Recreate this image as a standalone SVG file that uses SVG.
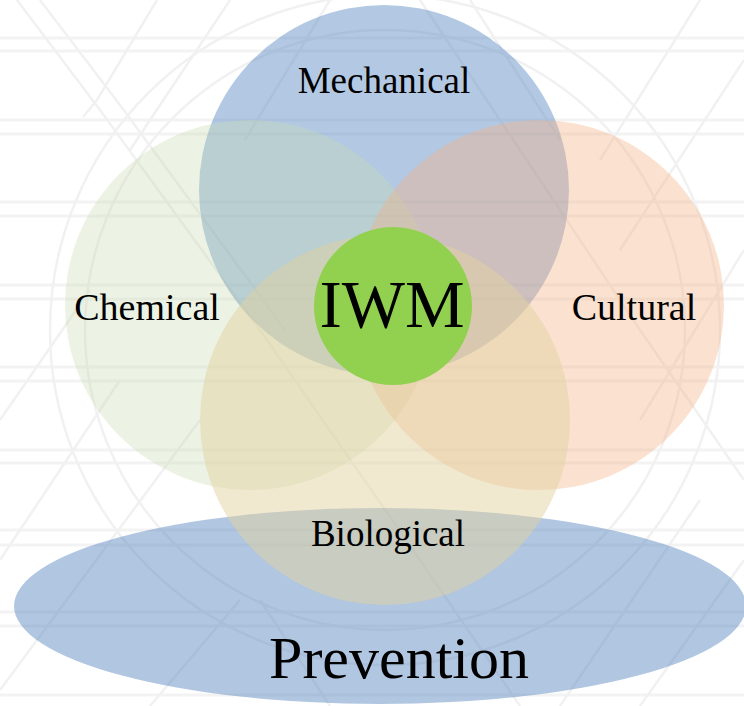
<svg xmlns="http://www.w3.org/2000/svg" width="744" height="706" viewBox="0 0 744 706">
  <style>
    .bg { fill: none; stroke: #f1f1f1; stroke-width: 2.5; }
    .bgh { fill: none; stroke: #f3f3f3; stroke-width: 3; }
    .lbl { font-family: "Liberation Serif", "Times New Roman", serif; fill: #000; text-anchor: middle; }
  </style>
  <rect width="744" height="706" fill="#ffffff"/>
  <g id="background">
    <path class="bgh" d="M0 38H744M0 51H744M0 120H744M0 134H744M0 202H744M0 216H744M0 285H744M0 299H744M0 367H744M0 381H744M0 450H744M0 463H744M0 530H744M0 545H744M0 612H744M0 626H744M0 695H744"/>
    <path class="bg" d="M17 0L100 110L260 330L420 560L520 706M40 0L120 105L285 330M157 0L97 100L83 117M230 0L130 150M330 0L245 140M420 0L500 120L640 330L744 480M470 0L560 140M700 0L600 160M744 60L620 250M744 250L640 420M0 420L90 290M0 560L120 380M0 690L200 420M560 706L700 500M640 706L744 560M150 706L240 600M330 706L260 600"/>
    <circle class="bg" cx="385" cy="330" r="335"/>
    <circle class="bg" cx="385" cy="330" r="300"/>
  </g>
  <g id="prevention">
    <ellipse cx="380" cy="606" rx="366" ry="98" fill="#4f81bd" fill-opacity="0.45"/>
  </g>
  <g id="mechanical">
    <circle cx="384" cy="190" r="185" fill="#4f81bd" fill-opacity="0.43"/>
  </g>
  <g id="chemical">
    <circle cx="250" cy="305" r="185" fill="#c5dcae" fill-opacity="0.33"/>
  </g>
  <g id="cultural">
    <circle cx="539" cy="305" r="185" fill="#f4b183" fill-opacity="0.38"/>
  </g>
  <g id="biological">
    <circle cx="385" cy="420" r="185" fill="#e1d29f" fill-opacity="0.5"/>
  </g>
  <g id="iwm">
    <circle cx="393" cy="306" r="79" fill="#92d050"/>
  </g>
  <g id="connectors"></g>
  <g id="labels">
    <text class="lbl" x="384" y="93" font-size="37">Mechanical</text>
    <text class="lbl" x="147" y="320" font-size="38">Chemical</text>
    <text class="lbl" x="634" y="320" font-size="38">Cultural</text>
    <text class="lbl" x="388" y="546" font-size="37">Biological</text>
    <text class="lbl" x="392" y="327" font-size="67">IWM</text>
    <text class="lbl" x="399" y="678" font-size="60">Prevention</text>
  </g>
</svg>
